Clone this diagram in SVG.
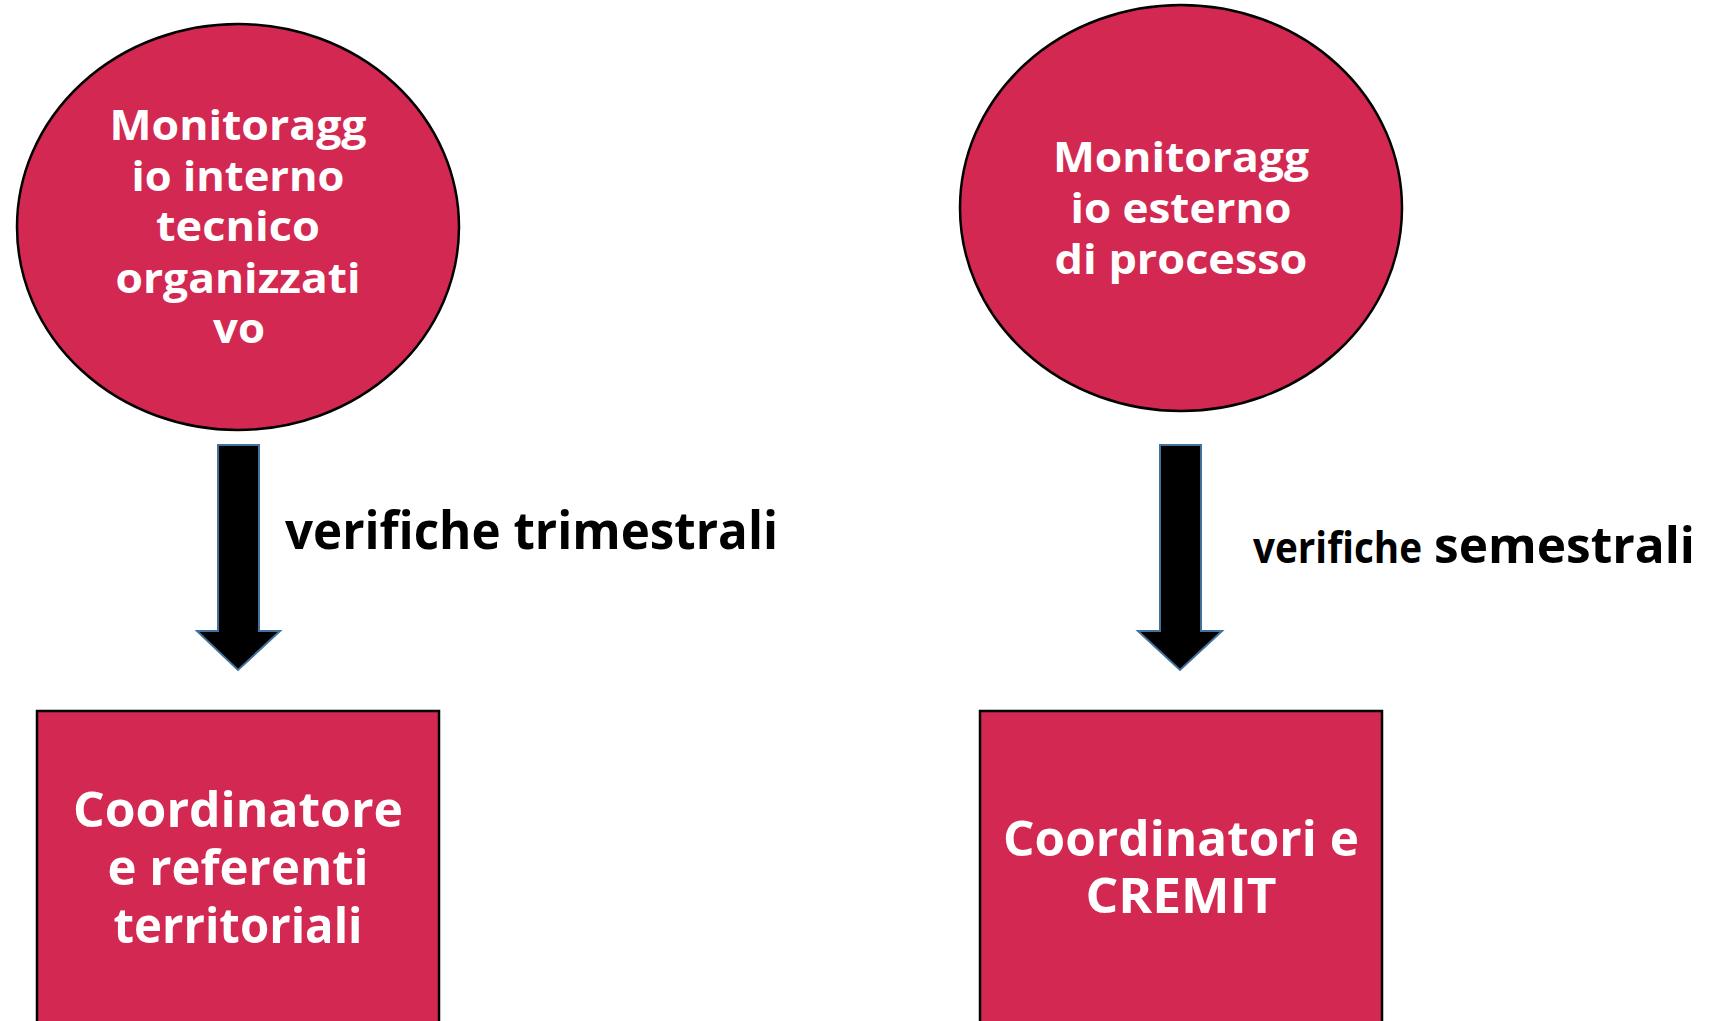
<svg xmlns="http://www.w3.org/2000/svg" width="1726" height="1021" viewBox="0 0 1726 1021">
<style>
.shape{fill:#D22852;stroke:#000;stroke-width:2.5}
.nt{font-family:"Open Sans","Noto Sans",sans-serif;font-weight:700;fill:#fff;text-anchor:middle}
.e{font-size:42px}
.r{font-size:49px}
.arrow{fill:#000;stroke:#41719C;stroke-width:2}
.lbl{font-family:"Open Sans","Noto Sans",sans-serif;font-weight:700;fill:#000}
</style>
<rect width="1726" height="1021" fill="#fff"/>
<g id="node-interno">
<ellipse class="shape" cx="238" cy="227" rx="221" ry="203"/>
<text class="nt e" x="238" y="140" textLength="257" lengthAdjust="spacingAndGlyphs">Monitoragg</text>
<text class="nt e" x="238" y="191" textLength="213" lengthAdjust="spacingAndGlyphs">io interno</text>
<text class="nt e" x="238" y="241" textLength="164" lengthAdjust="spacingAndGlyphs">tecnico</text>
<text class="nt e" x="238" y="293" textLength="245" lengthAdjust="spacingAndGlyphs">organizzati</text>
<text class="nt e" x="239" y="343" textLength="52" lengthAdjust="spacingAndGlyphs">vo</text>
</g>
<g id="node-esterno">
<ellipse class="shape" cx="1181" cy="208" rx="221" ry="203"/>
<text class="nt e" x="1181" y="172" textLength="256" lengthAdjust="spacingAndGlyphs">Monitoragg</text>
<text class="nt e" x="1181" y="223" textLength="221" lengthAdjust="spacingAndGlyphs">io esterno</text>
<text class="nt e" x="1181" y="274" textLength="253" lengthAdjust="spacingAndGlyphs">di processo</text>
</g>
<g id="node-coordinatore">
<rect class="shape" x="37" y="711" width="402" height="320"/>
<text class="nt r" x="238" y="827" textLength="330" lengthAdjust="spacingAndGlyphs">Coordinatore</text>
<text class="nt r" x="238" y="885" textLength="261" lengthAdjust="spacingAndGlyphs">e referenti</text>
<text class="nt r" x="238" y="943" textLength="249" lengthAdjust="spacingAndGlyphs">territoriali</text>
</g>
<g id="node-cremit">
<rect class="shape" x="980" y="711" width="402" height="320"/>
<text class="nt r" x="1181" y="856" textLength="356" lengthAdjust="spacingAndGlyphs">Coordinatori e</text>
<text class="nt r" x="1181" y="913" textLength="191" lengthAdjust="spacingAndGlyphs">CREMIT</text>
</g>
<g id="connectors">
<path class="arrow" d="M218,445 H259 V631 H280 L238,670 L197,631 H218 Z"/>
<path class="arrow" d="M1160,445 H1201 V631 H1222 L1180,670 L1138,631 H1160 Z"/>
<text class="lbl" x="285" y="549" font-size="52" textLength="493" lengthAdjust="spacingAndGlyphs">verifiche trimestrali</text>
<text class="lbl" x="1253" y="563" font-size="43" textLength="169" lengthAdjust="spacingAndGlyphs">verifiche</text>
<text class="lbl" x="1434" y="563" font-size="50" textLength="261" lengthAdjust="spacingAndGlyphs">semestrali</text>
</g>
</svg>
